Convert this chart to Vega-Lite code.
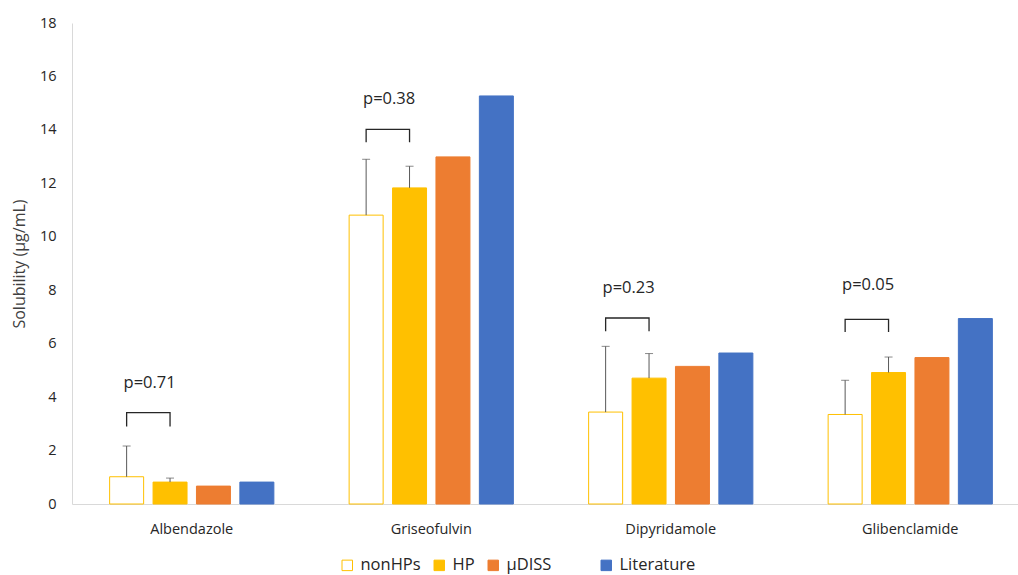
{
  "$schema": "https://vega.github.io/schema/vega-lite/v6.json",
  "autosize": {"type": "none"},
  "padding": {"left": 72, "top": 23, "right": 0, "bottom": 71},
  "width": 946,
  "height": 481,
  "background": "white",
  "config": {
    "font": "Open Sans",
    "view": {"stroke": null},
    "axis": {"labelFont": "Open Sans", "titleFont": "Open Sans", "labelColor": "#404040", "titleColor": "#404040"}
  },
  "datasets": {
    "bars": [
      {"drug": "Albendazole", "group": "nonHPs", "value": 1.02, "upper": 2.17},
      {"drug": "Albendazole", "group": "HP", "value": 0.82, "upper": 0.97},
      {"drug": "Albendazole", "group": "µDISS", "value": 0.67, "upper": null},
      {"drug": "Albendazole", "group": "Literature", "value": 0.82, "upper": null},
      {"drug": "Griseofulvin", "group": "nonHPs", "value": 10.81, "upper": 12.9},
      {"drug": "Griseofulvin", "group": "HP", "value": 11.83, "upper": 12.64},
      {"drug": "Griseofulvin", "group": "µDISS", "value": 12.99, "upper": null},
      {"drug": "Griseofulvin", "group": "Literature", "value": 15.27, "upper": null},
      {"drug": "Dipyridamole", "group": "nonHPs", "value": 3.44, "upper": 5.9},
      {"drug": "Dipyridamole", "group": "HP", "value": 4.71, "upper": 5.63},
      {"drug": "Dipyridamole", "group": "µDISS", "value": 5.15, "upper": null},
      {"drug": "Dipyridamole", "group": "Literature", "value": 5.65, "upper": null},
      {"drug": "Glibenclamide", "group": "nonHPs", "value": 3.35, "upper": 4.63},
      {"drug": "Glibenclamide", "group": "HP", "value": 4.92, "upper": 5.5},
      {"drug": "Glibenclamide", "group": "µDISS", "value": 5.48, "upper": null},
      {"drug": "Glibenclamide", "group": "Literature", "value": 6.94, "upper": null}
    ],
    "brackets": [
      {"drug": "Albendazole", "group": "nonHPs", "y": 2.9, "ord": 1},
      {"drug": "Albendazole", "group": "nonHPs", "y": 3.42, "ord": 2},
      {"drug": "Albendazole", "group": "HP", "y": 3.42, "ord": 3},
      {"drug": "Albendazole", "group": "HP", "y": 2.9, "ord": 4},
      {"drug": "Griseofulvin", "group": "nonHPs", "y": 13.54, "ord": 1},
      {"drug": "Griseofulvin", "group": "nonHPs", "y": 14.02, "ord": 2},
      {"drug": "Griseofulvin", "group": "HP", "y": 14.02, "ord": 3},
      {"drug": "Griseofulvin", "group": "HP", "y": 13.54, "ord": 4},
      {"drug": "Dipyridamole", "group": "nonHPs", "y": 6.46, "ord": 1},
      {"drug": "Dipyridamole", "group": "nonHPs", "y": 6.96, "ord": 2},
      {"drug": "Dipyridamole", "group": "HP", "y": 6.96, "ord": 3},
      {"drug": "Dipyridamole", "group": "HP", "y": 6.46, "ord": 4},
      {"drug": "Glibenclamide", "group": "nonHPs", "y": 6.44, "ord": 1},
      {"drug": "Glibenclamide", "group": "nonHPs", "y": 6.91, "ord": 2},
      {"drug": "Glibenclamide", "group": "HP", "y": 6.91, "ord": 3},
      {"drug": "Glibenclamide", "group": "HP", "y": 6.44, "ord": 4}
    ],
    "labels": [
      {"drug": "Albendazole", "group": "nonHPs", "y": 4.53, "text": "p=0.71"},
      {"drug": "Griseofulvin", "group": "nonHPs", "y": 15.17, "text": "p=0.38"},
      {"drug": "Dipyridamole", "group": "nonHPs", "y": 8.1, "text": "p=0.23"},
      {"drug": "Glibenclamide", "group": "nonHPs", "y": 8.19, "text": "p=0.05"}
    ]
  },
  "encoding": {
    "x": {
      "field": "drug", "type": "nominal",
      "sort": ["Albendazole", "Griseofulvin", "Dipyridamole", "Glibenclamide"],
      "scale": {"domain": ["Albendazole", "Griseofulvin", "Dipyridamole", "Glibenclamide"], "range": [0, 958], "paddingInner": 0, "paddingOuter": 0},
      "axis": {"title": null, "labelAngle": 0, "ticks": false, "labelPadding": 18, "labelFontSize": 14.5, "domainColor": "#D9D9D9", "labelColor": "#262626"}
    },
    "xOffset": {
      "field": "group", "type": "nominal",
      "scale": {"domain": ["nonHPs", "HP", "µDISS", "Literature"], "paddingInner": 0.217, "paddingOuter": 0.867}
    }
  },
  "layer": [
    {
      "data": {"name": "bars"},
      "mark": {"type": "bar", "strokeWidth": 1},
      "encoding": {
        "y": {
          "field": "value", "type": "quantitative",
          "scale": {"domain": [0, 18]},
          "axis": {"title": "Solubility (µg/mL)", "titleFontSize": 16, "titleFontWeight": "normal", "titlePadding": 12, "values": [0, 2, 4, 6, 8, 10, 12, 14, 16, 18], "grid": false, "ticks": false, "labelPadding": 16, "labelFontSize": 14.5, "domainColor": "#D9D9D9", "labelColor": "#262626"}
        },
        "fill": {
          "field": "group", "type": "nominal",
          "scale": {"domain": ["nonHPs", "HP", "µDISS", "Literature"], "range": ["#FFFFFF", "#FFC000", "#ED7D31", "#4472C4"]},
          "legend": {"title": null, "orient": "none", "legendX": 267, "legendY": 534, "direction": "horizontal", "symbolType": "square", "symbolSize": 110, "symbolStrokeWidth": 1, "labelFontSize": 16.5, "labelColor": "#262626", "columnPadding": 10, "labelOffset": 5, "labelExpr": "datum.label == 'µDISS' ? 'µDISS\u2800\u2800\u2800' : datum.label"}
        },
        "stroke": {
          "field": "group", "type": "nominal",
          "scale": {"domain": ["nonHPs", "HP", "µDISS", "Literature"], "range": ["#FFC000", "#FFC000", "#ED7D31", "#4472C4"]},
          "legend": {"title": null, "orient": "none", "legendX": 267, "legendY": 534, "direction": "horizontal", "symbolType": "square", "symbolSize": 110, "symbolStrokeWidth": 1, "labelFontSize": 16.5, "labelColor": "#262626", "columnPadding": 10, "labelOffset": 5, "labelExpr": "datum.label == 'µDISS' ? 'µDISS\u2800\u2800\u2800' : datum.label"}
        }
      }
    },
    {
      "data": {"name": "bars"},
      "transform": [{"filter": "datum.upper != null"}],
      "mark": {"type": "rule", "color": "#595959", "strokeWidth": 1},
      "encoding": {
        "y": {"field": "value", "type": "quantitative"},
        "y2": {"field": "upper"}
      }
    },
    {
      "data": {"name": "bars"},
      "transform": [{"filter": "datum.upper != null"}],
      "mark": {"type": "tick", "color": "#595959", "thickness": 1, "size": 8, "orient": "horizontal"},
      "encoding": {
        "y": {"field": "upper", "type": "quantitative"}
      }
    },
    {
      "data": {"name": "brackets"},
      "mark": {"type": "line", "color": "#262626", "strokeWidth": 1.3, "interpolate": "linear"},
      "encoding": {
        "y": {"field": "y", "type": "quantitative"},
        "detail": {"field": "drug"},
        "order": {"field": "ord", "type": "quantitative"}
      }
    },
    {
      "data": {"name": "labels"},
      "mark": {"type": "text", "fontSize": 16.5, "color": "#262626", "dx": 23, "baseline": "middle"},
      "encoding": {
        "y": {"field": "y", "type": "quantitative"},
        "text": {"field": "text"}
      }
    }
  ]
}
